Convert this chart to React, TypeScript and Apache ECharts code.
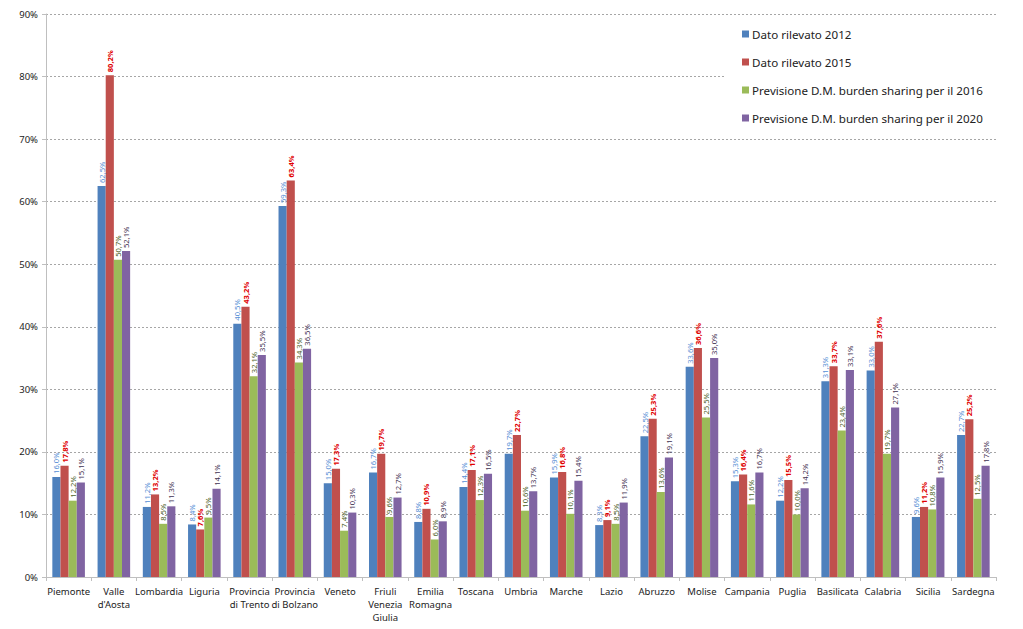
import React, { useEffect, useRef } from "react";
import * as echarts from "echarts";

const categories = [
  "Piemonte", "Valle\nd'Aosta", "Lombardia", "Liguria", "Provincia\ndi Trento", "Provincia\ndi Bolzano",
  "Veneto", "Friuli\nVenezia\nGiulia", "Emilia\nRomagna", "Toscana", "Umbria", "Marche", "Lazio",
  "Abruzzo", "Molise", "Campania", "Puglia", "Basilicata", "Calabria", "Sicilia", "Sardegna",
];
const dato2012 = [16.0, 62.5, 11.2, 8.4, 40.5, 59.3, 15.0, 16.7, 8.8, 14.4, 19.7, 15.9, 8.3, 22.5, 33.6, 15.3, 12.2, 31.3, 33.0, 9.6, 22.7];
const dato2015 = [17.8, 80.2, 13.2, 7.6, 43.2, 63.4, 17.3, 19.7, 10.9, 17.1, 22.7, 16.8, 9.1, 25.3, 36.6, 16.4, 15.5, 33.7, 37.6, 11.2, 25.2];
const prev2016 = [12.2, 50.7, 8.5, 9.5, 32.1, 34.3, 7.4, 9.6, 6.0, 12.3, 10.6, 10.1, 8.5, 13.6, 25.5, 11.6, 10.0, 23.4, 19.7, 10.8, 12.5];
const prev2020 = [15.1, 52.1, 11.3, 14.1, 35.5, 36.5, 10.3, 12.7, 8.9, 16.5, 13.7, 15.4, 11.9, 19.1, 35.0, 16.7, 14.2, 33.1, 27.1, 15.9, 17.8];
const seriesNames = [
  "Dato rilevato 2012",
  "Dato rilevato 2015",
  "Previsione D.M. burden sharing per il 2016",
  "Previsione D.M. burden sharing per il 2020",
];
const yTicks = [0, 10, 20, 30, 40, 50, 60, 70, 80, 90];

const barColors = ["#4F81BD", "#C0504D", "#9BBB59", "#8064A2"];
const labelColors = ["#558ED5", "#E00000", "#4F6228", "#3F3151"];
const font = "'Noto Sans', 'Open Sans', sans-serif";

export default function App() {
  const ref = useRef<HTMLDivElement>(null);
  useEffect(() => {
    if (!ref.current) return;
    const chart = echarts.init(ref.current, undefined, { renderer: "svg" });
    const data = [dato2012, dato2015, prev2016, prev2020];
    chart.setOption({
      animation: false,
      backgroundColor: "#ffffff",
      textStyle: { fontFamily: font },
      grid: { left: 46, right: 27, top: 14, bottom: 52, containLabel: false },
      legend: {
        orient: "vertical",
        left: 724,
        top: 20,
        padding: [8, 30, 8, 18],
        backgroundColor: "#ffffff",
        itemWidth: 7,
        itemHeight: 7,
        itemGap: 16,
        icon: "rect",
        textStyle: { fontSize: 11.6, color: "#222", fontFamily: font, padding: [0, 0, 0, -2] },
        data: seriesNames,
      },
      xAxis: {
        type: "category",
        data: categories,
        axisLine: { lineStyle: { color: "#BFBFBF" } },
        axisTick: { show: true, alignWithLabel: false, lineStyle: { color: "#BFBFBF" }, length: 4 },
        axisLabel: { fontSize: 9.5, color: "#222", interval: 0, lineHeight: 13, margin: 8, fontFamily: font },
      },
      yAxis: {
        type: "value",
        min: 0,
        max: 90,
        interval: 10,
        axisLine: { show: true, lineStyle: { color: "#BFBFBF" } },
        axisTick: { show: true, lineStyle: { color: "#BFBFBF" }, length: 4 },
        axisLabel: {
          fontSize: 9.5,
          color: "#222",
          margin: 8,
          formatter: (v: number) => (yTicks.includes(v) ? v + "%" : ""),
        },
        splitLine: { lineStyle: { color: "#A6A6A6", type: [2, 2] } },
      },
      series: data.map((d, i) => ({
        name: seriesNames[i],
        type: "bar",
        data: d,
        barGap: "0%",
        barCategoryGap: "28%",
        itemStyle: { color: barColors[i] },
        label: {
          show: true,
          position: "top",
          rotate: 90,
          align: "left",
          verticalAlign: "middle",
          distance: 3,
          fontSize: 7.6,
          fontWeight: i === 1 ? "bold" : "normal",
          color: labelColors[i],
          fontFamily: font,
          formatter: (p: any) => p.value.toFixed(1).replace(".", ",") + "%",
        },
        z: 2,
      })),
    });
    return () => chart.dispose();
  }, []);
  return <div ref={ref} style={{ width: 1023, height: 629, position: "absolute", left: 0, top: 0 }} />;
}
